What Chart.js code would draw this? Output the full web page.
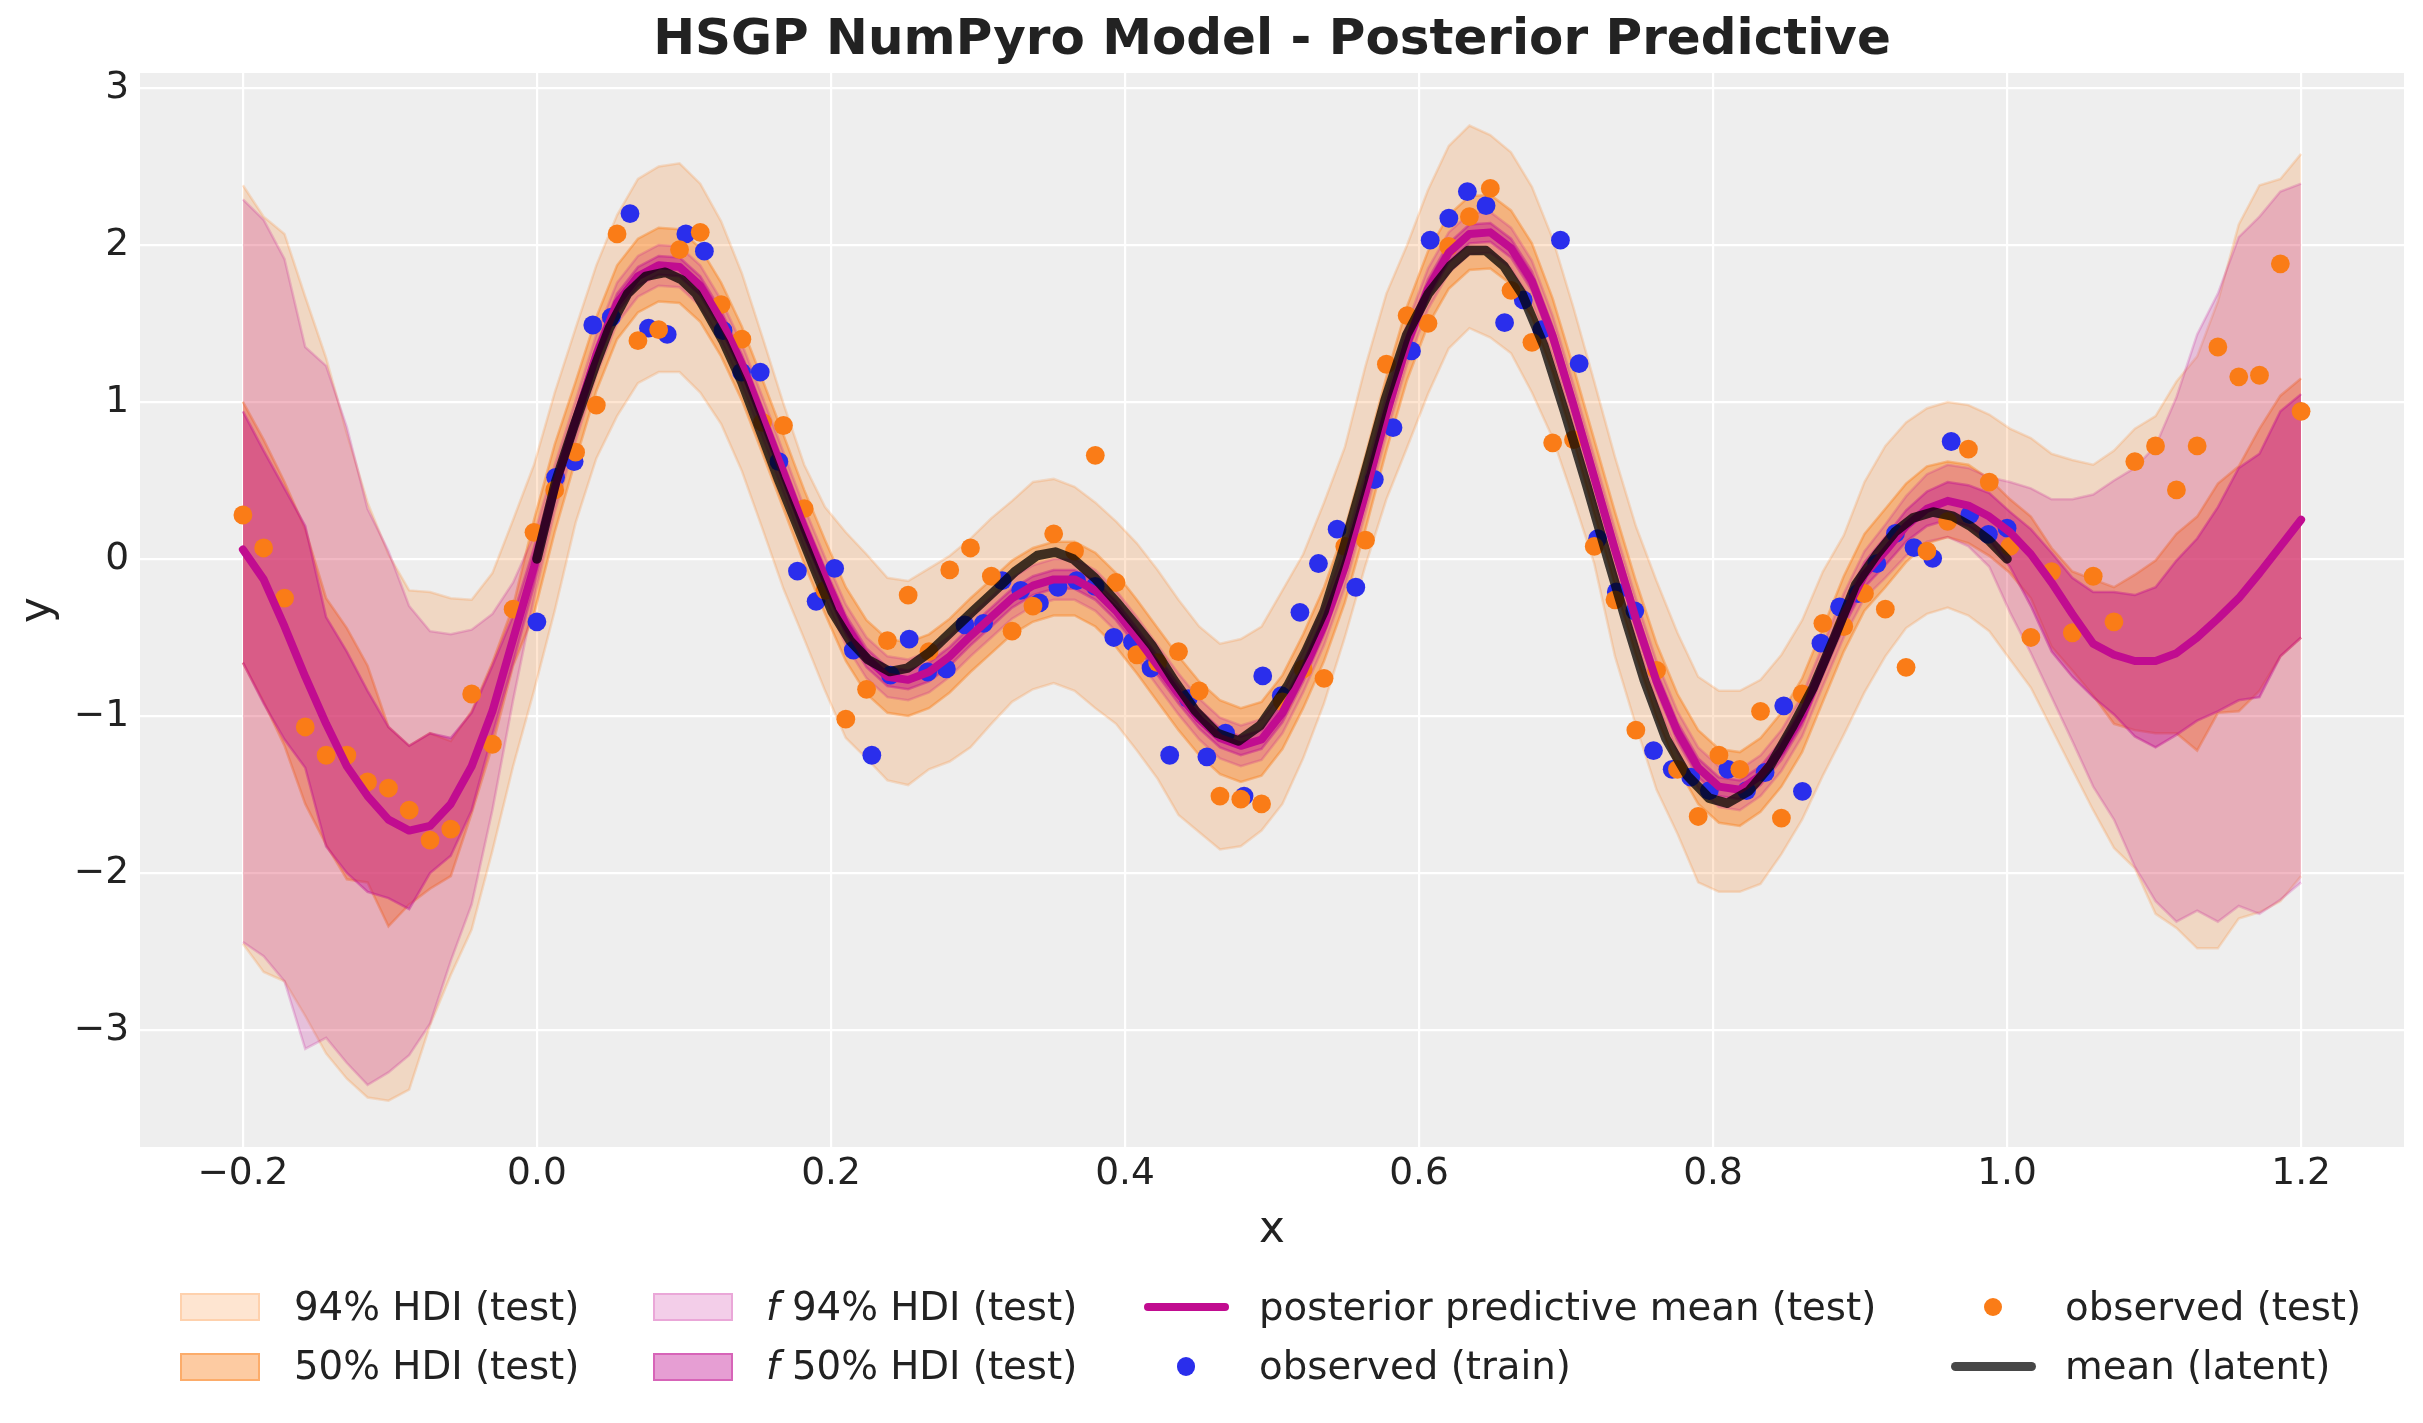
<!DOCTYPE html>
<html><head><meta charset="utf-8">
<script src="https://cdn.jsdelivr.net/npm/chart.js@4.4.1/dist/chart.umd.min.js"></script>
<style>
html,body{margin:0;padding:0;background:#fff;}
#wrap{position:relative;width:2423px;height:1423px;overflow:hidden;}
#c{position:absolute;left:0;top:0;width:2423px;height:1423px;}
.lt{position:absolute;font-family:"DejaVu Sans";font-size:38.7px;line-height:38.7px;color:#222;white-space:nowrap;}
.lh{position:absolute;box-sizing:border-box;}
</style></head>
<body><div id="wrap"><canvas id="c" width="2423" height="1423"></canvas><div id="legend"></div></div>
<script>
const xTest = [-0.2,-0.1859,-0.1717,-0.1576,-0.1434,-0.1293,-0.1152,-0.101,-0.0869,-0.0727,
-0.0586,-0.0444,-0.0303,-0.0162,-0.002,0.0121,0.0263,0.0404,0.0545,0.0687,
0.0828,0.097,0.1111,0.1253,0.1394,0.1535,0.1677,0.1818,0.196,0.2101,
0.2242,0.2384,0.2525,0.2667,0.2808,0.2949,0.3091,0.3232,0.3374,0.3515,
0.3657,0.3798,0.3939,0.4081,0.4222,0.4364,0.4505,0.4646,0.4788,0.4929,
0.5071,0.5212,0.5354,0.5495,0.5636,0.5778,0.5919,0.6061,0.6202,0.6343,
0.6485,0.6626,0.6768,0.6909,0.7051,0.7192,0.7333,0.7475,0.7616,0.7758,
0.7899,0.804,0.8182,0.8323,0.8465,0.8606,0.8747,0.8889,0.903,0.9172,
0.9313,0.9455,0.9596,0.9737,0.9879,1.002,1.0162,1.0303,1.0444,1.0586,
1.0727,1.0869,1.101,1.1152,1.1293,1.1434,1.1576,1.1717,1.1859,1.2];

const yTest = [0.28,0.07,-0.25,-1.07,-1.25,-1.25,-1.42,-1.46,-1.60,-1.79,
-1.72,-0.86,-1.18,-0.32,0.17,0.44,0.68,0.98,2.07,1.39,
1.46,1.97,2.08,1.62,1.40,0.87,0.85,0.32,-0.20,-1.02,
-0.83,-0.52,-0.23,-0.59,-0.07,0.07,-0.11,-0.46,-0.30,0.16,
0.05,0.66,-0.15,-0.61,-0.66,-0.59,-0.84,-1.51,-1.53,-1.56,
-0.91,-0.70,-0.76,0.08,0.12,1.24,1.55,1.50,1.99,2.18,
2.36,1.71,1.38,0.74,0.76,0.08,-0.26,-1.09,-0.71,-1.34,
-1.64,-1.25,-1.34,-0.97,-1.65,-0.86,-0.41,-0.43,-0.22,-0.32,
-0.69,0.05,0.24,0.70,0.49,0.08,-0.50,-0.08,-0.47,-0.11,
-0.40,0.62,0.72,0.44,0.72,1.35,1.16,1.17,1.88,0.94];

const xTrain = [0,0.0127,0.0253,0.038,0.0506,0.0633,0.0759,0.0886,0.1013,0.1139,
0.1266,0.1392,0.1519,0.1646,0.1772,0.1899,0.2025,0.2152,0.2278,0.2405,
0.2532,0.2658,0.2785,0.2911,0.3038,0.3165,0.3291,0.3418,0.3544,0.3671,
0.3797,0.3924,0.4051,0.4177,0.4304,0.443,0.4557,0.4684,0.481,0.4937,
0.5063,0.519,0.5316,0.5443,0.557,0.5696,0.5823,0.5949,0.6076,0.6203,
0.6329,0.6456,0.6582,0.6709,0.6835,0.6962,0.7089,0.7215,0.7342,0.7468,
0.7595,0.7722,0.7848,0.7975,0.8101,0.8228,0.8354,0.8481,0.8608,0.8734,
0.8861,0.8987,0.9114,0.9241,0.9367,0.9494,0.962,0.9747,0.9873,1.0];

const yTrain = [-0.40,0.52,0.62,1.49,1.54,2.20,1.47,1.43,2.07,1.96,
1.455,1.19,1.19,0.62,-0.077,-0.27,-0.06,-0.58,-1.25,-0.74,
-0.51,-0.72,-0.70,-0.42,-0.41,-0.138,-0.20,-0.28,-0.18,-0.138,
-0.175,-0.50,-0.53,-0.695,-1.25,-0.89,-1.26,-1.11,-1.51,-0.745,
-0.87,-0.34,-0.029,0.19,-0.18,0.506,0.836,1.325,2.03,2.17,
2.34,2.25,1.505,1.65,1.46,2.03,1.244,0.13,-0.21,-0.33,
-1.22,-1.34,-1.39,-1.475,-1.34,-1.475,-1.36,-0.935,-1.48,-0.536,
-0.305,-0.22,-0.03,0.163,0.072,0.004,0.748,0.283,0.157,0.196];

const xLatent = [0.0,0.0127,0.025,0.0397,0.0494,0.0617,0.0739,0.0874,0.0984,0.1082,
0.115,0.1268,0.1395,0.1518,0.164,0.1763,0.1885,0.2007,0.213,0.2252,
0.24,0.2521,0.2668,0.2815,0.2962,0.3109,0.3256,0.3403,0.3525,0.3648,
0.3795,0.3941,0.4063,0.4185,0.4332,0.4479,0.4626,0.4773,0.492,0.5109,
0.5231,0.5354,0.5476,0.5623,0.577,0.5917,0.6064,0.6211,0.6333,0.6455,
0.6578,0.67,0.6847,0.6994,0.7141,0.7288,0.741,0.7532,0.7679,0.7826,
0.7973,0.8095,0.8242,0.8389,0.8536,0.8683,0.883,0.897,0.9116,0.9239,
0.9361,0.9496,0.963,0.9753,0.9875,1.0];
const yLatent = [0.0,0.49,0.84,1.233,1.473,1.69,1.80,1.826,1.778,1.69,
1.58,1.385,1.123,0.818,0.513,0.229,-0.055,-0.334,-0.521,-0.641,
-0.717,-0.695,-0.597,-0.466,-0.335,-0.208,-0.077,0.022,0.044,0.0,
-0.12,-0.273,-0.41,-0.553,-0.771,-0.967,-1.109,-1.159,-1.06,-0.804,
-0.586,-0.335,0.032,0.513,1.014,1.429,1.69,1.865,1.964,1.964,
1.865,1.69,1.364,0.927,0.469,-0.011,-0.40,-0.771,-1.142,-1.381,
-1.523,-1.556,-1.479,-1.316,-1.076,-0.815,-0.49,-0.164,0.032,0.174,
0.262,0.299,0.273,0.207,0.12,0.0];

const ppmMean = [0.06,-0.13,-0.43,-0.75,-1.05,-1.32,-1.51,-1.66,-1.73,-1.70,
-1.56,-1.32,-0.97,-0.51,-0.05,0.45,0.88,1.30,1.63,1.80,
1.87,1.86,1.74,1.52,1.24,0.90,0.55,0.20,-0.12,-0.42,
-0.63,-0.75,-0.77,-0.72,-0.62,-0.49,-0.37,-0.25,-0.17,-0.13,
-0.13,-0.20,-0.33,-0.50,-0.68,-0.86,-1.02,-1.14,-1.19,-1.15,
-0.98,-0.72,-0.42,-0.05,0.42,0.92,1.37,1.72,1.95,2.07,
2.08,1.98,1.77,1.42,0.98,0.52,0.06,-0.38,-0.78,-1.10,
-1.33,-1.45,-1.47,-1.38,-1.22,-1.00,-0.68,-0.36,-0.10,0.05,
0.21,0.32,0.37,0.34,0.27,0.17,0.03,-0.15,-0.35,-0.54,
-0.61,-0.65,-0.65,-0.60,-0.50,-0.38,-0.25,-0.09,0.08,0.25];

const hdi94Upper = [2.38,2.18,2.07,1.67,1.28,0.80,0.36,0.03,-0.20,-0.21,
-0.25,-0.26,-0.09,0.25,0.60,1.06,1.47,1.87,2.19,2.42,
2.50,2.52,2.39,2.15,1.82,1.41,0.99,0.60,0.33,0.17,
0.03,-0.12,-0.14,-0.06,0.02,0.13,0.26,0.37,0.49,0.51,
0.46,0.36,0.24,0.10,-0.07,-0.26,-0.43,-0.54,-0.51,-0.43,
-0.20,0.03,0.36,0.71,1.23,1.69,2.00,2.35,2.63,2.76,
2.70,2.59,2.37,2.04,1.60,1.13,0.65,0.21,-0.14,-0.47,
-0.75,-0.84,-0.84,-0.77,-0.61,-0.39,-0.08,0.15,0.49,0.72,
0.87,0.96,1.00,0.98,0.92,0.83,0.77,0.67,0.63,0.60,
0.69,0.83,0.91,1.13,1.29,1.64,2.13,2.38,2.42,2.58];
const hdi94Lower = [-2.45,-2.63,-2.69,-2.91,-3.15,-3.31,-3.43,-3.45,-3.38,-2.97,
-2.65,-2.36,-1.86,-1.32,-0.84,-0.33,0.23,0.64,0.91,1.12,
1.19,1.19,1.06,0.86,0.56,0.19,-0.19,-0.51,-0.84,-1.14,
-1.27,-1.41,-1.44,-1.34,-1.29,-1.20,-1.05,-0.91,-0.83,-0.79,
-0.84,-0.95,-1.05,-1.22,-1.40,-1.63,-1.74,-1.85,-1.83,-1.73,
-1.56,-1.27,-0.92,-0.50,-0.04,0.38,0.71,1.05,1.34,1.47,
1.41,1.31,1.06,0.77,0.38,-0.03,-0.62,-1.06,-1.47,-1.75,
-2.06,-2.12,-2.12,-2.07,-1.88,-1.66,-1.38,-1.12,-0.85,-0.62,
-0.44,-0.35,-0.31,-0.36,-0.46,-0.64,-0.82,-1.08,-1.34,-1.60,
-1.84,-1.97,-2.26,-2.35,-2.48,-2.48,-2.29,-2.25,-2.18,-2.02];

const hdi50Upper = [1.00,0.76,0.49,0.19,-0.25,-0.44,-0.68,-1.07,-1.19,-1.11,
-1.16,-0.97,-0.66,-0.30,0.25,0.73,1.13,1.54,1.87,2.04,
2.11,2.10,1.98,1.76,1.48,1.14,0.79,0.44,0.12,-0.18,
-0.39,-0.51,-0.53,-0.48,-0.38,-0.25,-0.13,-0.01,0.07,0.11,
0.11,0.04,-0.09,-0.26,-0.44,-0.62,-0.78,-0.90,-0.95,-0.91,
-0.74,-0.48,-0.18,0.19,0.66,1.16,1.61,1.96,2.19,2.31,
2.32,2.22,2.01,1.66,1.22,0.76,0.30,-0.14,-0.54,-0.86,
-1.09,-1.21,-1.23,-1.14,-0.98,-0.76,-0.44,-0.11,0.16,0.32,
0.48,0.59,0.62,0.60,0.51,0.38,0.27,0.07,-0.08,-0.13,
-0.18,-0.10,-0.01,0.16,0.27,0.48,0.59,0.83,1.04,1.15];
const hdi50Lower = [-0.66,-0.91,-1.19,-1.56,-1.82,-2.04,-2.06,-2.34,-2.20,-2.10,
-2.02,-1.62,-1.19,-0.68,-0.35,0.17,0.63,1.07,1.40,1.57,
1.64,1.63,1.51,1.29,1.01,0.67,0.32,-0.03,-0.35,-0.65,
-0.86,-0.98,-1.00,-0.95,-0.85,-0.72,-0.60,-0.48,-0.40,-0.36,
-0.36,-0.43,-0.56,-0.73,-0.91,-1.09,-1.25,-1.37,-1.42,-1.38,
-1.21,-0.95,-0.65,-0.28,0.19,0.69,1.14,1.49,1.72,1.84,
1.85,1.75,1.54,1.19,0.75,0.29,-0.17,-0.61,-1.01,-1.33,
-1.56,-1.68,-1.70,-1.61,-1.45,-1.23,-0.91,-0.59,-0.33,-0.18,
-0.02,0.10,0.14,0.10,0.02,-0.09,-0.25,-0.56,-0.71,-0.87,
-1.05,-1.09,-1.11,-1.11,-1.22,-0.98,-0.97,-0.84,-0.62,-0.50];

const f94Upper = [2.29,2.16,1.91,1.35,1.23,0.84,0.32,0.05,-0.30,-0.46,
-0.48,-0.45,-0.35,-0.15,0.15,0.60,1.01,1.43,1.76,1.93,
2.00,1.99,1.87,1.65,1.37,1.03,0.68,0.33,0.01,-0.29,
-0.50,-0.62,-0.64,-0.59,-0.49,-0.36,-0.24,-0.12,-0.04,0.00,
0.00,-0.07,-0.20,-0.37,-0.55,-0.73,-0.89,-1.01,-1.06,-1.02,
-0.85,-0.59,-0.29,0.08,0.55,1.05,1.50,1.85,2.08,2.20,
2.21,2.11,1.90,1.55,1.11,0.65,0.19,-0.25,-0.65,-0.97,
-1.20,-1.32,-1.34,-1.25,-1.09,-0.87,-0.55,-0.22,0.05,0.22,
0.40,0.54,0.60,0.58,0.52,0.49,0.45,0.38,0.38,0.41,
0.50,0.58,0.72,1.03,1.43,1.69,2.05,2.18,2.34,2.39];
const f94Lower = [-2.44,-2.53,-2.69,-3.12,-3.05,-3.21,-3.35,-3.27,-3.16,-2.96,
-2.56,-2.20,-1.60,-0.90,-0.25,0.30,0.75,1.17,1.50,1.67,
1.74,1.73,1.61,1.39,1.11,0.77,0.42,0.07,-0.25,-0.55,
-0.76,-0.88,-0.90,-0.85,-0.75,-0.62,-0.50,-0.38,-0.30,-0.26,
-0.26,-0.33,-0.46,-0.63,-0.81,-0.99,-1.15,-1.27,-1.32,-1.28,
-1.11,-0.85,-0.55,-0.18,0.29,0.79,1.24,1.59,1.82,1.94,
1.95,1.85,1.64,1.29,0.85,0.39,-0.07,-0.51,-0.91,-1.23,
-1.46,-1.58,-1.60,-1.51,-1.35,-1.13,-0.81,-0.50,-0.25,-0.12,
0.02,0.11,0.14,0.08,-0.05,-0.34,-0.60,-0.88,-1.16,-1.45,
-1.66,-1.96,-2.18,-2.31,-2.24,-2.31,-2.21,-2.26,-2.17,-2.06];

const f50Upper = [0.94,0.69,0.45,0.21,-0.37,-0.59,-0.84,-1.07,-1.19,-1.11,
-1.14,-0.98,-0.68,-0.36,0.07,0.53,0.94,1.36,1.69,1.86,
1.93,1.92,1.80,1.58,1.30,0.96,0.61,0.26,-0.06,-0.36,
-0.57,-0.69,-0.71,-0.66,-0.56,-0.43,-0.31,-0.19,-0.11,-0.07,
-0.07,-0.14,-0.27,-0.44,-0.62,-0.80,-0.96,-1.08,-1.13,-1.09,
-0.92,-0.66,-0.36,0.01,0.48,0.98,1.43,1.78,2.01,2.13,
2.14,2.04,1.83,1.48,1.04,0.58,0.12,-0.32,-0.72,-1.04,
-1.27,-1.39,-1.41,-1.32,-1.16,-0.94,-0.62,-0.29,-0.02,0.14,
0.31,0.43,0.49,0.47,0.42,0.30,0.19,0.04,-0.12,-0.21,
-0.21,-0.23,-0.18,-0.01,0.13,0.33,0.58,0.67,0.94,1.05];
const f50Lower = [-0.66,-0.92,-1.15,-1.33,-1.83,-2.00,-2.12,-2.16,-2.23,-2.00,
-1.89,-1.60,-1.12,-0.66,-0.17,0.37,0.82,1.24,1.57,1.74,
1.81,1.80,1.68,1.46,1.18,0.84,0.49,0.14,-0.18,-0.48,
-0.69,-0.81,-0.83,-0.78,-0.68,-0.55,-0.43,-0.31,-0.23,-0.19,
-0.19,-0.26,-0.39,-0.56,-0.74,-0.92,-1.08,-1.20,-1.25,-1.21,
-1.04,-0.78,-0.48,-0.11,0.36,0.86,1.31,1.66,1.89,2.01,
2.02,1.92,1.71,1.36,0.92,0.46,0.00,-0.44,-0.84,-1.16,
-1.39,-1.51,-1.53,-1.44,-1.28,-1.06,-0.74,-0.43,-0.18,-0.04,
0.11,0.21,0.25,0.21,0.12,-0.05,-0.30,-0.59,-0.75,-0.88,
-0.99,-1.13,-1.20,-1.12,-1.03,-0.97,-0.90,-0.88,-0.62,-0.50];

const xTickVals = [-0.2,0.0,0.2,0.4,0.6,0.8,1.0,1.2];
const xTickLabels = ["\u22120.2","0.0","0.2","0.4","0.6","0.8","1.0","1.2"];
const yTickVals = [-3,-2,-1,0,1,2,3];
const yTickLabels = ["\u22123","\u22122","\u22121","0","1","2","3"];

const titleText = "HSGP NumPyro Model - Posterior Predictive";
const legendLabels = ["94% HDI (test)","50% HDI (test)","94% HDI (test)","50% HDI (test)",
  "posterior predictive mean (test)","observed (train)","observed (test)","mean (latent)"];

const ORANGE = '250,124,23', PINK = '193,12,144';
const pts = (xs, ys) => xs.map((x, i) => ({x: x, y: ys[i]}));
function band(label, up, lo, rgb, a) {
  const c = 'rgba(' + rgb + ',' + a + ')';
  return [
    {label: label, data: pts(xTest, up), borderColor: c, backgroundColor: c, borderWidth: 2.5, pointRadius: 0, fill: '+1'},
    {label: label + ' (lower)', data: pts(xTest, lo), borderColor: c, backgroundColor: c, borderWidth: 2.5, pointRadius: 0, fill: false}
  ];
}

const datasets = [
  {label: 'mean (latent)', data: pts(xLatent, yLatent), borderColor: 'rgba(0,0,0,0.74)', borderWidth: 9.5, pointRadius: 0, fill: false, borderCapStyle: 'round', borderJoinStyle: 'round'},
  {label: 'posterior predictive mean (test)', data: pts(xTest, ppmMean), borderColor: '#c10c90', borderWidth: 8, pointRadius: 0, fill: false, borderCapStyle: 'round', borderJoinStyle: 'round'},
  {label: 'observed (test)', data: pts(xTest, yTest), showLine: false, pointRadius: 9.4, pointBackgroundColor: '#fa7c17', pointBorderWidth: 0, pointHoverRadius: 9.4},
  {label: 'observed (train)', data: pts(xTrain, yTrain), showLine: false, pointRadius: 9.4, pointBackgroundColor: '#2a2eec', pointBorderWidth: 0, pointHoverRadius: 9.4},
  ...band('f 50% HDI (test)', f50Upper, f50Lower, PINK, 0.4),
  ...band('f 94% HDI (test)', f94Upper, f94Lower, PINK, 0.2),
  ...band('50% HDI (test)', hdi50Upper, hdi50Lower, ORANGE, 0.4),
  ...band('94% HDI (test)', hdi94Upper, hdi94Lower, ORANGE, 0.2)
];

const bgPlugin = {id: 'bg', beforeDraw(chart) {
  const {ctx, chartArea: a} = chart;
  ctx.save(); ctx.fillStyle = '#eeeeee';
  ctx.fillRect(a.left, a.top, a.right - a.left, a.bottom - a.top);
  ctx.restore();
}};

const FONT = 'DejaVu Sans';
new Chart(document.getElementById('c'), {
  type: 'line',
  data: {datasets: datasets},
  plugins: [bgPlugin],
  options: {
    responsive: false, animation: false, devicePixelRatio: 1,
    layout: {padding: {left: 0, right: 19, top: 0, bottom: 166}},
    plugins: {
      legend: {display: false}, tooltip: {enabled: false},
      title: {display: true, fullSize: false, text: titleText, color: '#222222',
        font: {family: FONT, size: 50, weight: 'bold'}, padding: {top: 11, bottom: 2}}
    },
    scales: {
      x: {type: 'linear', min: -0.27, max: 1.27,
        afterBuildTicks: s => { s.ticks = xTickVals.map(v => ({value: v})); },
        afterFit: s => { s.height = 110; },
        ticks: {callback: (v, i) => xTickLabels[i], color: '#222222', font: {family: FONT, size: 37.5}, padding: 5, maxRotation: 0, autoSkip: false},
        grid: {color: '#ffffff', lineWidth: 2.2, drawTicks: false},
        border: {display: false},
        title: {display: true, text: 'x', color: '#222222', font: {family: FONT, size: 43.75}, padding: {top: 0, bottom: 0}}
      },
      y: {type: 'linear', min: -3.745, max: 3.095,
        afterBuildTicks: s => { s.ticks = yTickVals.map(v => ({value: v})); },
        afterFit: s => { s.width = 140; },
        ticks: {callback: (v, i) => yTickLabels[i], color: '#222222', font: {family: FONT, size: 37.5}, padding: 11, autoSkip: false},
        grid: {color: '#ffffff', lineWidth: 2.2, drawTicks: false},
        border: {display: false},
        title: {display: true, text: 'y', color: '#222222', font: {family: FONT, size: 43.75}, padding: {top: 12, bottom: 0}}
      }
    }
  }
});

// legend (HTML, matplotlib-style 4 columns x 2 rows)
const leg = document.getElementById('legend');
const rowMid = [1307, 1366.5], rowBase = [1320.7, 1380];
function addText(x, row, html) {
  const d = document.createElement('div'); d.className = 'lt';
  d.style.left = x + 'px'; d.style.top = (rowBase[row] - 32.8) + 'px';
  d.innerHTML = html; leg.appendChild(d);
}
function addPatch(x, row, rgb, a) {
  const d = document.createElement('div'); d.className = 'lh';
  d.style.left = x + 'px'; d.style.top = (rowMid[row] - 14) + 'px';
  d.style.width = '80px'; d.style.height = '28px';
  d.style.background = 'rgba(' + rgb + ',' + a + ')';
  d.style.border = '2.5px solid rgba(' + rgb + ',' + a + ')';
  leg.appendChild(d);
}
function addLine(x, row, color, w) {
  const d = document.createElement('div'); d.className = 'lh';
  d.style.left = x + 'px'; d.style.top = (rowMid[row] - w / 2) + 'px';
  d.style.width = '85px'; d.style.height = w + 'px'; d.style.borderRadius = (w / 2) + 'px';
  d.style.background = color; leg.appendChild(d);
}
function addDot(cx, row, color) {
  const d = document.createElement('div'); d.className = 'lh';
  d.style.left = (cx - 9.4) + 'px'; d.style.top = (rowMid[row] - 9.4) + 'px';
  d.style.width = '18.8px'; d.style.height = '18.8px'; d.style.borderRadius = '50%';
  d.style.background = color; leg.appendChild(d);
}
addPatch(180, 0, ORANGE, 0.2); addText(294, 0, legendLabels[0]);
addPatch(180, 1, ORANGE, 0.4); addText(294, 1, legendLabels[1]);
addPatch(653, 0, PINK, 0.2); addText(766, 0, '<i>f</i> ' + legendLabels[2]);
addPatch(653, 1, PINK, 0.4); addText(766, 1, '<i>f</i> ' + legendLabels[3]);
addLine(1144, 0, '#c10c90', 8); addText(1259, 0, legendLabels[4]);
addDot(1186, 1, '#2a2eec'); addText(1259, 1, legendLabels[5]);
addDot(1993, 0, '#fa7c17'); addText(2065, 0, legendLabels[6]);
addLine(1951, 1, 'rgba(0,0,0,0.72)', 9.5); addText(2065, 1, legendLabels[7]);
</script>
</body></html>
